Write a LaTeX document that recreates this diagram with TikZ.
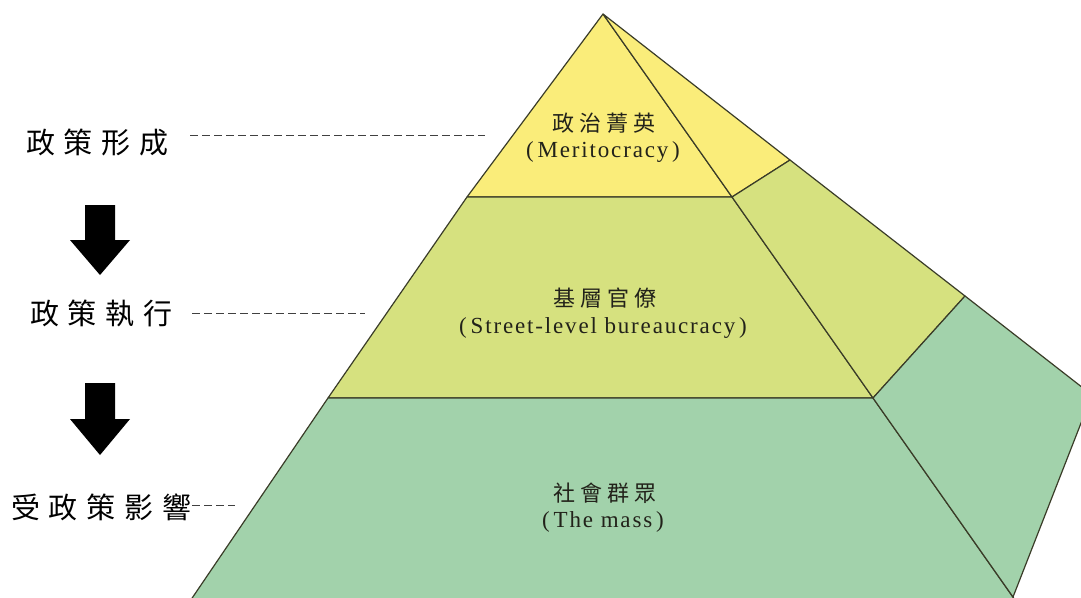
\documentclass[tikz,border=0pt]{standalone}
\usepackage{fontspec}
\setmainfont{Liberation Serif}[LetterSpace=8]
\newfontfamily\cjk{Noto Sans CJK TC}[LetterSpace=23]
\newfontfamily\cjkbig{Noto Sans CJK TC}[LetterSpace=30]
\definecolor{ylw}{RGB}{250,237,122}
\definecolor{lime}{RGB}{214,225,127}
\definecolor{grn}{RGB}{162,210,171}
\definecolor{edge}{RGB}{58,60,40}
\definecolor{txt}{RGB}{34,34,26}
\tikzset{
  face/.style={draw=edge, line width=1.2pt, line join=round},
  midlab/.style={inner sep=0pt, text=txt, font=\fontsize{22}{22}\selectfont\cjk},
  enlab/.style={inner sep=0pt, text=txt, font=\fontsize{23}{23}\selectfont},
  sidelab/.style={inner sep=0pt, anchor=west, text=black, font=\fontsize{29}{29}\selectfont\cjkbig},
  dashline/.style={draw=black!75, line width=0.9pt, dash pattern=on 7.5pt off 4.5pt},
  bigarrow/.style={fill=black}
}
\begin{document}
\begin{tikzpicture}[x=1pt,y=-1pt]
\useasboundingbox (0,0) rectangle (1081,597);
\fill[white] (0,0) rectangle (1081,597);
\begin{scope}
\clip (0,0) rectangle (1081,597);
% front faces
\filldraw[face, fill=ylw] (603,14) -- (467,197) -- (732,197) -- cycle;
\filldraw[face, fill=lime] (467,197) -- (328,398) -- (873,398) -- (732,197) -- cycle;
\filldraw[face, fill=grn] (328,398) -- (184,610) -- (1022,610) -- (873,398) -- cycle;
% side faces
\filldraw[face, fill=ylw] (603,14) -- (790,160) -- (732,197) -- cycle;
\filldraw[face, fill=lime] (732,197) -- (790,160) -- (965,296) -- (873,398) -- cycle;
\filldraw[face, fill=grn] (873,398) -- (965,296) -- (1092,395) -- (1013,597) -- cycle;
\end{scope}
% pyramid labels
\node[midlab] (t1) at (604,123) {政治菁英};
\node[enlab] (e1) at (603,152) {(\,Meritocracy\,)};
\node[midlab] (t2) at (605,298) {基層官僚};
\node[enlab] (e2) at (603,328) {(\,Street-level bureaucracy\,)};
\node[midlab] (t3) at (605,493) {社會群眾};
\node[enlab] (e3) at (603,522) {(\,The mass\,)};
% left labels
\node[sidelab] (s1) at (26,142) {政策形成};
\node[sidelab] (s2) at (30,313) {政策執行};
\node[sidelab] (s3) at (11,507) {受政策影響};
\coordinate (d1a) at (190,135); \coordinate (d1b) at (485,135);
\coordinate (d2a) at (192,313); \coordinate (d2b) at (365,313);
\coordinate (d3a) at (192,505); \coordinate (d3b) at (235,505);
\draw[dashline] (d1a) -- (d1b);
\draw[dashline] (d2a) -- (d2b);
\draw[dashline] (d3a) -- (d3b);
% arrows
\fill[bigarrow] (85,205) -- (115,205) -- (115,240) -- (130,240) -- (100,275) -- (70,240) -- (85,240) -- cycle;
\fill[bigarrow] (85,383) -- (115,383) -- (115,419) -- (130,419) -- (100,455) -- (70,419) -- (85,419) -- cycle;
\end{tikzpicture}
\end{document}
